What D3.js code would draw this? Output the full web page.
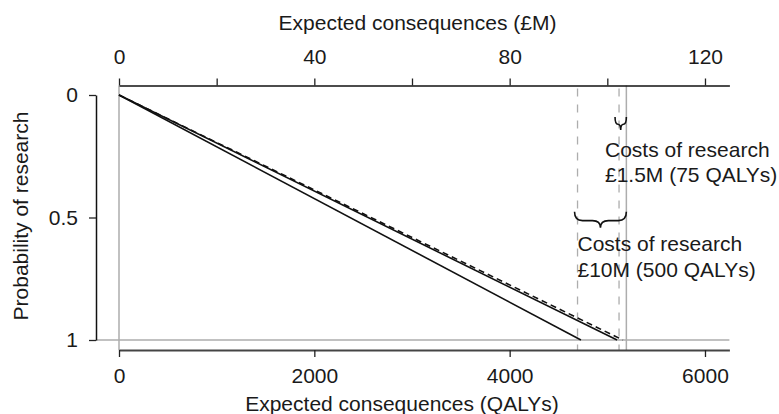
<!DOCTYPE html>
<html>
<head>
<meta charset="utf-8">
<script src="https://cdn.jsdelivr.net/npm/d3@7"></script>
<style>
  html, body { margin: 0; padding: 0; background: #fff; }
  svg { display: block; }
  text { font-family: "Liberation Sans", Arial, Helvetica, sans-serif; fill: #1a1a1a; }
</style>
</head>
<body>
<svg id="chart" width="779" height="414"></svg>
<script>
// Probability of research (y) against expected consequences (x)
const probTicks = [0, 0.5, 1];
const qalyTicks = [0, 2000, 4000, 6000];
const moneyTicks = [0, 20, 40, 60, 80, 100, 120];
const moneyLabelled = [0, 40, 80, 120];

// Expected consequences with no research cost deducted (QALYs)
const maxConsequence = 5195;
// Research costs
const costQALYs = [75, 500];
const costLabels = ["£1.5M (75 QALYs)", "£10M (500 QALYs)"];

// Curves: consequences (QALYs) at each probability of research
const probability = [0, 1];
const solidLower = [0, 4730];
const solidUpper = [0, 5100];
const dashedCurve = [0, 5160];

const svg = d3.select("#chart");
const fontSize = 21;

const x = d3.scaleLinear().domain([0, 6250]).range([119, 729.4]);
const xMoney = d3.scaleLinear().domain([0, 125]).range([119, 729.4]);
const y = d3.scaleLinear().domain([0, 1]).range([95, 340]);

const topY = 85.5, bottomY = 350, leftX = 96;

// Reference lines
const grey = "#adadad";
svg.append("line")
  .attr("x1", x(0)).attr("x2", x(0))
  .attr("y1", topY).attr("y2", bottomY)
  .attr("stroke", grey).attr("stroke-width", 1.5);
svg.append("line")
  .attr("x1", leftX).attr("x2", x.range()[1])
  .attr("y1", y(1)).attr("y2", y(1))
  .attr("stroke", grey).attr("stroke-width", 1.5);
svg.append("line")
  .attr("x1", x(maxConsequence)).attr("x2", x(maxConsequence))
  .attr("y1", topY).attr("y2", bottomY)
  .attr("stroke", grey).attr("stroke-width", 1.5);
costQALYs.forEach(c => {
  svg.append("line")
    .attr("x1", x(maxConsequence - c)).attr("x2", x(maxConsequence - c))
    .attr("y1", topY + 3).attr("y2", bottomY)
    .attr("stroke", grey).attr("stroke-width", 1.3)
    .attr("stroke-dasharray", "8,8");
});

// Curves
const line = d3.line().x(d => x(d[1])).y(d => y(d[0]));
const curves = [
  { values: solidLower, dash: null },
  { values: solidUpper, dash: null },
  { values: dashedCurve, dash: "6,4" }
];
curves.forEach(s => {
  svg.append("path")
    .datum(probability.map((p, i) => [p, s.values[i]]))
    .attr("d", line)
    .attr("fill", "none")
    .attr("stroke", "#111")
    .attr("stroke-width", 1.6)
    .attr("stroke-dasharray", s.dash);
});

// Axes
const bottomAxis = svg.append("g")
  .attr("transform", `translate(0,${bottomY})`)
  .call(d3.axisBottom(x).tickValues(qalyTicks).tickSize(7).tickSizeOuter(0).tickPadding(11).tickFormat(d3.format("d")));
bottomAxis.select(".domain").attr("stroke", "#444").attr("stroke-width", 2.2);

const topAxis = svg.append("g")
  .attr("transform", `translate(0,${topY})`)
  .call(d3.axisTop(xMoney).tickValues(moneyTicks).tickSize(7).tickSizeOuter(0).tickPadding(15)
    .tickFormat(d => moneyLabelled.includes(d) ? String(d) : ""));
topAxis.select(".domain").attr("stroke", "#111").attr("stroke-width", 1.5);

const leftAxis = svg.append("g")
  .attr("transform", `translate(${leftX},0)`)
  .call(d3.axisLeft(y).tickValues(probTicks).tickSize(7).tickSizeOuter(0).tickPadding(11).tickFormat(d => String(d)));
leftAxis.select(".domain").attr("stroke", "#111").attr("stroke-width", 1.5);

svg.selectAll(".tick line").attr("stroke", "#222").attr("stroke-width", 1.3);
svg.selectAll(".tick text")
  .style("font-family", "'Liberation Sans', Arial, Helvetica, sans-serif")
  .style("font-size", fontSize + "px")
  .attr("fill", "#1a1a1a");

// Axis titles
svg.append("text")
  .attr("x", 402).attr("y", 411)
  .attr("text-anchor", "middle")
  .style("font-size", fontSize + "px")
  .text("Expected consequences (QALYs)");
svg.append("text")
  .attr("x", 417.5).attr("y", 30)
  .attr("text-anchor", "middle")
  .style("font-size", fontSize + "px")
  .text("Expected consequences (£M)");
svg.append("text")
  .attr("transform", "translate(28,216) rotate(-90)")
  .attr("text-anchor", "middle")
  .style("font-size", fontSize + "px")
  .text("Probability of research");

// Curly braces spanning each research cost
function brace(x0, x1, yTop, h) {
  const w = x1 - x0, xm = (x0 + x1) / 2, r = Math.min(w / 4, 8), ym = yTop + h * 0.55;
  return `M${x0},${yTop} Q${x0},${ym} ${x0 + r},${ym} L${xm - r},${ym} Q${xm},${ym} ${xm},${yTop + h}` +
         ` Q${xm},${ym} ${xm + r},${ym} L${x1 - r},${ym} Q${x1},${ym} ${x1},${yTop}`;
}
const braceTop = [y(0.09), y(0.477)];
const braceDepth = [13, 16];
const braceLeftPad = [4, 3];
const labelX = [605, 577.5];
const labelY = [156.7, 251.3];
costQALYs.forEach((c, i) => {
  svg.append("path")
    .attr("d", brace(x(maxConsequence - c) - braceLeftPad[i], x(maxConsequence), braceTop[i], braceDepth[i]))
    .attr("fill", "none").attr("stroke", "#111").attr("stroke-width", 1.6);
  const t = svg.append("text")
    .attr("x", labelX[i]).attr("y", labelY[i])
    .style("font-size", fontSize + "px");
  t.append("tspan").attr("x", labelX[i]).text("Costs of research");
  t.append("tspan").attr("x", labelX[i]).attr("dy", 25.3).text(costLabels[i]);
});
</script>
</body>
</html>
